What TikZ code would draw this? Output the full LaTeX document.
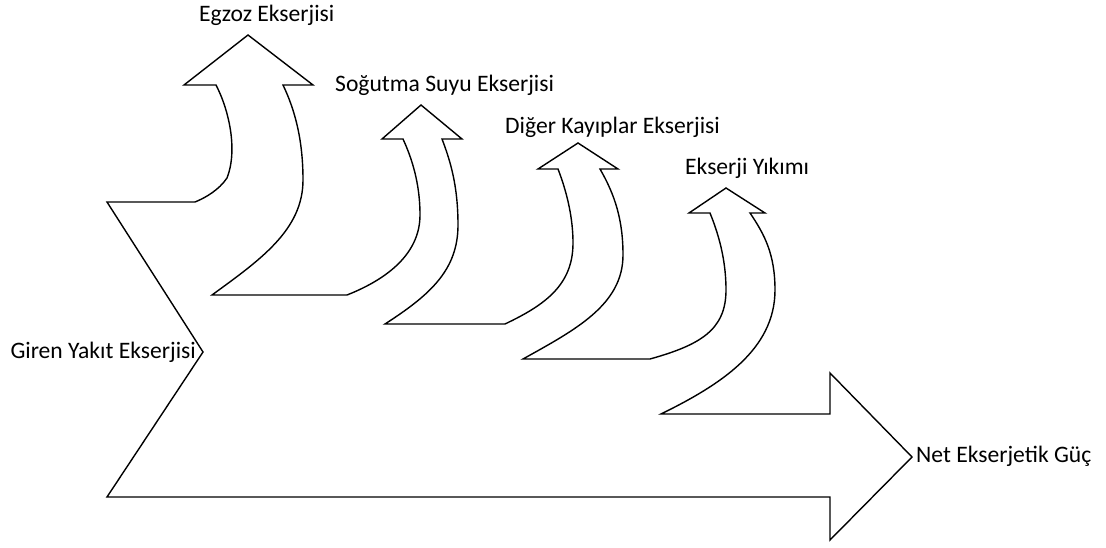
\documentclass[tikz,border=0pt]{standalone}
\usepackage{fontspec}
\setmainfont{Carlito}
\begin{document}
\begin{tikzpicture}[x=1pt,y=-1pt,
  flow/.style={draw=black,line width=1.4pt,line join=miter,fill=white},
  lbl/.style={inner sep=0pt,font=\fontsize{23.6}{28}\selectfont,text=black}]
\useasboundingbox (0,0) rectangle (1106,548);
% the exergy flow band, split into the loss arrows and the net output arrow
\draw[flow]
  (107,202) -- (203,352) -- (107,497) -- (830,497) -- (830,540)
  -- (912,457) -- (830,373) -- (830,414) -- (661,414)
  % exergy destruction branch
  .. controls (720,385) and (775,350) .. (775,290)
  .. controls (775,255) and (765,235) .. (750,213)
  -- (765,213) -- (726,188) -- (689,213) -- (710,213)
  .. controls (721,240) and (726,265) .. (726,290)
  .. controls (726,330) and (700,345) .. (650,359)
  -- (523,359)
  % other losses branch
  .. controls (575,330) and (623,305) .. (623,255)
  .. controls (623,220) and (615,195) .. (600,169)
  -- (618,169) -- (578,143) -- (538,169) -- (558,169)
  .. controls (568,195) and (573,220) .. (573,243)
  .. controls (573,285) and (545,305) .. (505,324)
  -- (385,324)
  % cooling water branch
  .. controls (430,295) and (458,270) .. (458,225)
  .. controls (458,185) and (450,160) .. (442,139)
  -- (462,139) -- (421,105) -- (382,139) -- (403,139)
  .. controls (415,165) and (420,190) .. (420,215)
  .. controls (420,255) and (385,280) .. (347,295)
  -- (212,295)
  % exhaust branch
  .. controls (260,260) and (303,230) .. (303,180)
  .. controls (303,140) and (295,110) .. (283,85)
  -- (313,85) -- (248,35) -- (184,85) -- (216,85)
  .. controls (229,110) and (238,150) .. (227,178)
  .. controls (219,190) and (205,198) .. (195,202)
  -- cycle;
% labels
\node[lbl,anchor=base west] (egzoz) at (199,22) {Egzoz Ekserjisi};
\node[lbl,anchor=base west] (sogutma) at (335,92) {Soğutma Suyu Ekserjisi};
\node[lbl,anchor=base west] (diger) at (505,134) {Diğer Kayıplar Ekserjisi};
\node[lbl,anchor=base west] (yikim) at (685,175) {Ekserji Yıkımı};
\node[lbl,anchor=base east] (giren) at (196,358) {Giren Yakıt Ekserjisi};
\node[lbl,anchor=base west] (net) at (916,462) {Net Ekserjetik Güç};
\end{tikzpicture}
\end{document}
